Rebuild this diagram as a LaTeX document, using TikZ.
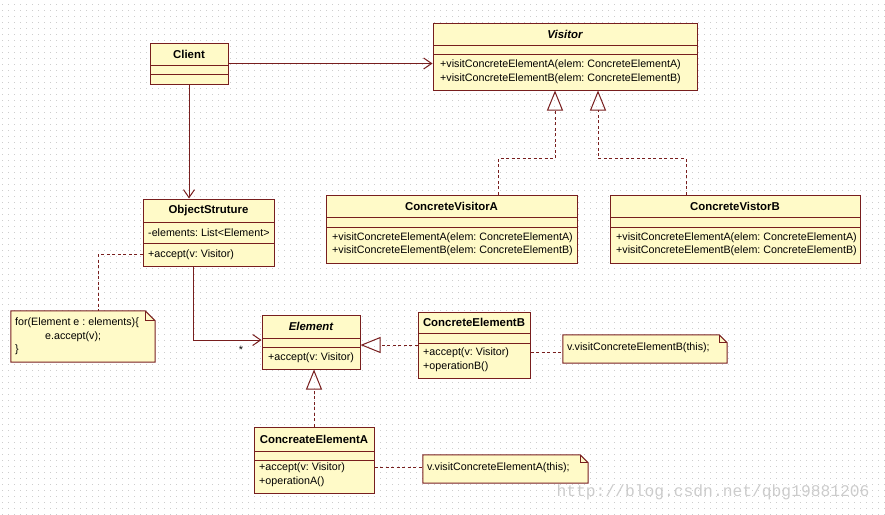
\documentclass[tikz,border=0pt]{standalone}
\usepackage{fontspec}
\setmainfont{Liberation Sans}
\newfontfamily\markfont{Liberation Mono}
\usetikzlibrary{arrows.meta}
\frenchspacing

\definecolor{umlline}{RGB}{120,30,30}
\definecolor{umlfill}{RGB}{255,250,200}
\definecolor{gridgray}{RGB}{205,205,205}

\tikzset{
    classbox/.style={draw=umlline, fill=umlfill, line width=1pt, inner sep=0pt},
    part/.style={draw=umlline, line width=1pt},
    title/.style={font=\fontsize{11.4}{13.5}\selectfont\bfseries},
    member/.style={anchor=west, align=left, inner sep=0pt},
    assoc/.style={draw=umlline, line width=1pt, -{Straight Barb[length=8pt,width=11pt]}},
    realize/.style={draw=umlline, line width=1pt, dash pattern=on 3pt off 2.5pt, -{Triangle[open,length=20pt,width=16pt]}},
    anchorline/.style={draw=umlline, line width=1pt, dash pattern=on 3pt off 2.5pt},
    notebox/.style={inner sep=0pt},
    notebody/.style={draw=umlline, fill=umlfill, line width=1pt}
}

\begin{document}
\begin{tikzpicture}[x=1pt, y=-1pt, font=\fontsize{10.7}{13.5}\selectfont]
    \useasboundingbox (0,0) rectangle (885,514);
    \fill[white] (0,0) rectangle (885,514);
    \foreach \gy in {4,10,...,514}
        \draw[gridgray, line width=0.8pt, dash pattern=on 0.8pt off 5.2pt] (2,\gy) -- (885,\gy);

    % classes
    \node[classbox, minimum width=78, minimum height=41] (client) at (189,63.5) {};
    \draw[part] (150,65) -- (228,65) (150,74) -- (228,74);
    \node[title] at (189,54) {Client};

    \node[classbox, minimum width=264, minimum height=67] (visitor) at (565,56.5) {};
    \draw[part] (433,45) -- (697,45) (433,54) -- (697,54);
    \node[title] at (565,34) {\itshape Visitor};
    \node[member] at (440,71.5) {+visitConcreteElementA(elem: ConcreteElementA)\\+visitConcreteElementB(elem: ConcreteElementB)};

    \node[classbox, minimum width=131, minimum height=67] (objstr) at (208.5,232.5) {};
    \draw[part] (143,222) -- (274,222) (143,243) -- (274,243);
    \node[title] at (208.5,210.5) {ObjectStruture};
    \node[member] at (148,232.5) {-elements: List<Element>};
    \node[member] at (148,254.5) {+accept(v: Visitor)};

    \node[classbox, minimum width=251, minimum height=68] (cva) at (451.5,229) {};
    \draw[part] (326,217) -- (577,217) (326,227) -- (577,227);
    \node[title] at (451.5,206) {ConcreteVisitorA};
    \node[member] at (332,244) {+visitConcreteElementA(elem: ConcreteElementA)\\+visitConcreteElementB(elem: ConcreteElementB)};

    \node[classbox, minimum width=250, minimum height=68] (cvb) at (735,229) {};
    \draw[part] (610,217) -- (860,217) (610,227) -- (860,227);
    \node[title] at (735,206) {ConcreteVistorB};
    \node[member] at (616,244) {+visitConcreteElementA(elem: ConcreteElementA)\\+visitConcreteElementB(elem: ConcreteElementB)};

    \node[classbox, minimum width=98, minimum height=54] (element) at (311,342) {};
    \draw[part] (262,338) -- (360,338) (262,347) -- (360,347);
    \node[title] at (311,326.5) {\itshape Element};
    \node[member] at (268,358) {+accept(v: Visitor)};

    \node[classbox, minimum width=112, minimum height=66] (ceb) at (474,345) {};
    \draw[part] (418,333) -- (530,333) (418,343) -- (530,343);
    \node[title] at (474,322.5) {ConcreteElementB};
    \node[member] at (423,359.5) {+accept(v: Visitor)\\+operationB()};

    \node[classbox, minimum width=120, minimum height=66] (cea) at (314,460) {};
    \draw[part] (254,451) -- (374,451) (254,460) -- (374,460);
    \node[title] at (314,439) {ConcreateElementA};
    \node[member] at (259,474.5) {+accept(v: Visitor)\\+operationA()};

    % notes
    \node[notebox, minimum width=144, minimum height=51] (noteloop) at (83,336.5) {};
    \draw[notebody] (noteloop.south west) -- (noteloop.north west) -- ([xshift=-10]noteloop.north east) -- ([yshift=-10]noteloop.north east) -- (noteloop.south east) -- cycle;
    \draw[part] ([xshift=-10]noteloop.north east) -- ([xshift=-10,yshift=-10]noteloop.north east) -- ([yshift=-10]noteloop.north east);
    \node[member] at (15,336.5) {for(Element e : elements)\{\\\hspace*{30pt}e.accept(v);\\\}};

    \node[notebox, minimum width=164, minimum height=28] (noteb) at (645,349) {};
    \draw[notebody] (noteb.south west) -- (noteb.north west) -- ([xshift=-8]noteb.north east) -- ([yshift=-8]noteb.north east) -- (noteb.south east) -- cycle;
    \draw[part] ([xshift=-8]noteb.north east) -- ([xshift=-8,yshift=-8]noteb.north east) -- ([yshift=-8]noteb.north east);
    \node[member] at (567,348) {v.visitConcreteElementB(this);};

    \node[notebox, minimum width=165, minimum height=28] (notea) at (505.5,469) {};
    \draw[notebody] (notea.south west) -- (notea.north west) -- ([xshift=-8]notea.north east) -- ([yshift=-8]notea.north east) -- (notea.south east) -- cycle;
    \draw[part] ([xshift=-8]notea.north east) -- ([xshift=-8,yshift=-8]notea.north east) -- ([yshift=-8]notea.north east);
    \node[member] at (427,468) {v.visitConcreteElementA(this);};

    % connectors
    \draw[assoc] (client.east) -- (client.east -| visitor.west);
    \draw[assoc] (client.south) -- (client.south |- objstr.north);
    \draw[realize] ([xshift=46.5]cva.north) -- ++(0,-36) -| ([xshift=-10]visitor.south);
    \draw[realize] ([xshift=-49]cvb.north) -- ++(0,-36) -| ([xshift=33]visitor.south);
    \draw[assoc] ([xshift=-15.5]objstr.south) |- ([yshift=2]element.west) node[pos=0.85, below=2pt] {*};
    \draw[anchorline] ([yshift=-22]objstr.west) -| ([xshift=15]noteloop.north);
    \draw[realize] (ceb.west) -- (ceb.west -| element.east);
    \draw[realize] (cea.north) -- (cea.north |- element.south);
    \draw[anchorline] ([yshift=-7]ceb.east) -- ([yshift=-7]ceb.east -| noteb.west);
    \draw[anchorline] ([yshift=-7]cea.east) -- ([yshift=-7]cea.east -| notea.west);

    \node[anchor=west, text=gray!40, font=\markfont\fontsize{16.3}{18}\selectfont] (mark) at (553,492) {http://blog.csdn.net/qbg19881206};
\end{tikzpicture}
\end{document}
